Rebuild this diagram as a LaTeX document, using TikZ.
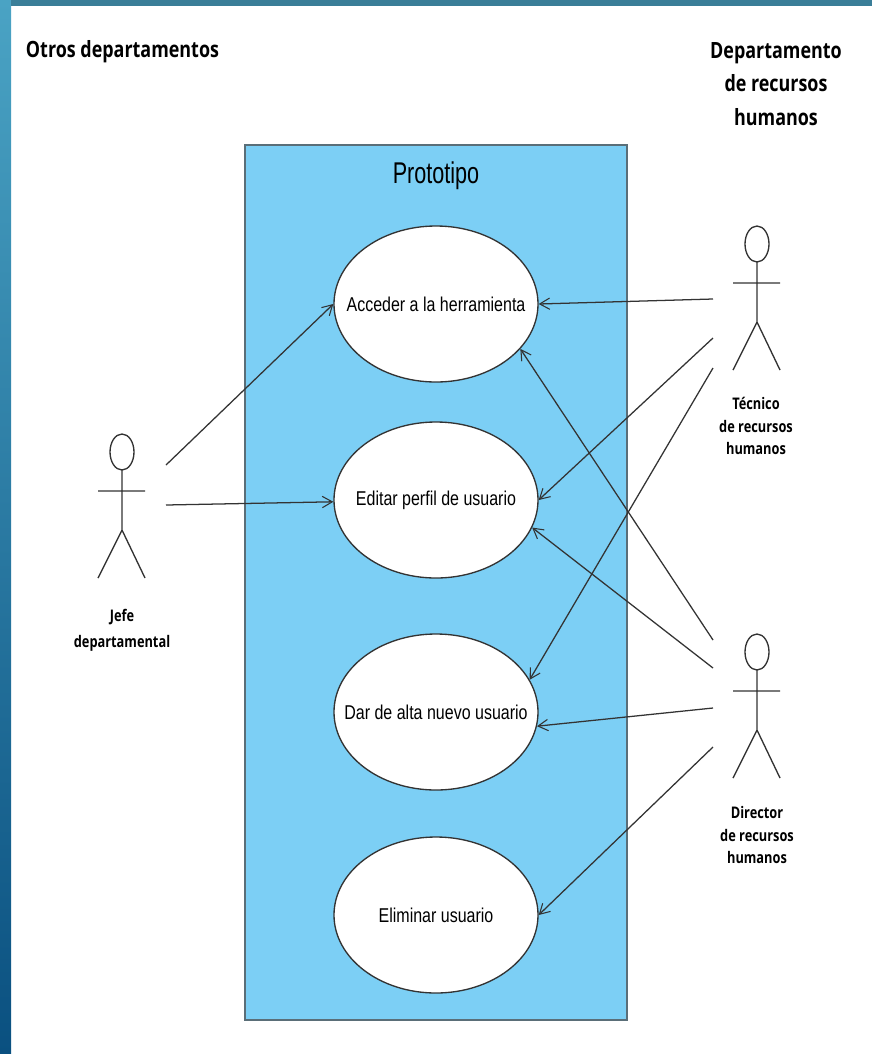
\documentclass[tikz,border=0pt]{standalone}
\usepackage{fontspec}
\usetikzlibrary{arrows.meta,shapes.geometric}
\setmainfont{Liberation Sans}
\newfontfamily\narrowfont[FakeStretch=0.80]{Liberation Sans}
\newfontfamily\titlefont[FakeStretch=0.72]{Liberation Sans}
\newfontfamily\labelfont[FakeStretch=0.80]{Open Sans}
\newcommand{\casetext}[1]{\makebox[0pt]{#1}}
\definecolor{panelblue}{HTML}{7CCFF5}
\definecolor{panelline}{HTML}{5A6E78}
\definecolor{linegray}{HTML}{333333}
\definecolor{frametop}{HTML}{4AA3C4}
\definecolor{framebot}{HTML}{0A5080}
\definecolor{bandtop}{HTML}{3A7E98}
\tikzset{
  usecase/.style={draw=linegray,fill=white,line width=1pt,shape=ellipse,minimum width=153pt,minimum height=117pt,inner sep=0pt,font=\narrowfont\fontsize{15}{18}\selectfont},
  rel/.style={draw=linegray,line width=0.95pt,-{Straight Barb[length=7.5pt,width=8.5pt,line width=0.8pt]}},
  heading/.style={align=center,font=\labelfont\bfseries\fontsize{16.8}{25.2}\selectfont,text=black},
  actorlabel/.style={align=center,font=\labelfont\bfseries\fontsize{12}{17.2}\selectfont,text=black},
  stick/.style={draw=linegray,line width=1pt},
  pics/actor/.style={code={
    \draw[stick] (0,0) ellipse [x radius=9pt,y radius=13.5pt];
    \draw[stick] (0,18) -- (0,78) (-24,39) -- (23,39) (0,78) -- (-24,126) (0,78) -- (23,126);
  }}
}
\begin{document}
\begin{tikzpicture}[x=0.75pt,y=-0.75pt]
\useasboundingbox (0,0) rectangle (872,1054);
\fill[white] (0,0) rectangle (872,1054);
\fill[top color=frametop,bottom color=framebot] (0,0) rectangle (11,1054);
\fill[bandtop] (11,0) rectangle (872,6);
% panel
\node[draw=panelline,fill=panelblue,line width=1.5pt,minimum width=286.5pt,minimum height=656.25pt,inner sep=0pt] (panel) at (436,582.5) {};
\node[font=\titlefont\fontsize{22.5}{27}\selectfont] (title) at (436,176) {Prototipo};
% headings
\node[heading] (h1) at (122.5,52) {Otros departamentos};
\node[heading] (h2) at (776,84) {Departamento\\de recursos\\humanos};
% use cases
\node[usecase] (e1) at (436,304) {\casetext{Acceder a la herramienta}};
\node[usecase] (e2) at (436,500) {\casetext{Editar perfil de usuario}};
\node[usecase] (e3) at (436,712) {\casetext{Dar de alta nuevo usuario}};
\node[usecase] (e4) at (436,915) {\casetext{Eliminar usuario}};
% actors
\pic at (122,452) {actor};
\pic at (757,244) {actor};
\pic at (757,652) {actor};
\node[actorlabel] (jefe) at (122,630) {Jefe\\[2.2pt]departamental};
\node[actorlabel] (tec) at (756,426) {Técnico\\de recursos\\humanos};
\node[actorlabel] (dir) at (757,835) {Director\\de recursos\\humanos};
% connector ends beside the actors
\coordinate (j1) at (166,465);
\coordinate (j2) at (166,505);
\coordinate (t1) at (713,299);
\coordinate (t2) at (713,338);
\coordinate (t3) at (713,368);
\coordinate (d1) at (713,640);
\coordinate (d2) at (713,668);
\coordinate (d3) at (713,708);
\coordinate (d4) at (713,747);
% connectors
\draw[rel] (j1) -- (e1.west);
\draw[rel] (j2) -- (e2.181);
\draw[rel] (t1) -- (e1.east);
\draw[rel] (t2) -- (e2.east);
\draw[rel] (t3) -- (e3.19);
\draw[rel] (d1) -- (e1.-28);
\draw[rel] (d2) -- (e2.-16);
\draw[rel] (d3) -- (e3.-8);
\draw[rel] (d4) -- (e4.east);
\end{tikzpicture}
\end{document}
